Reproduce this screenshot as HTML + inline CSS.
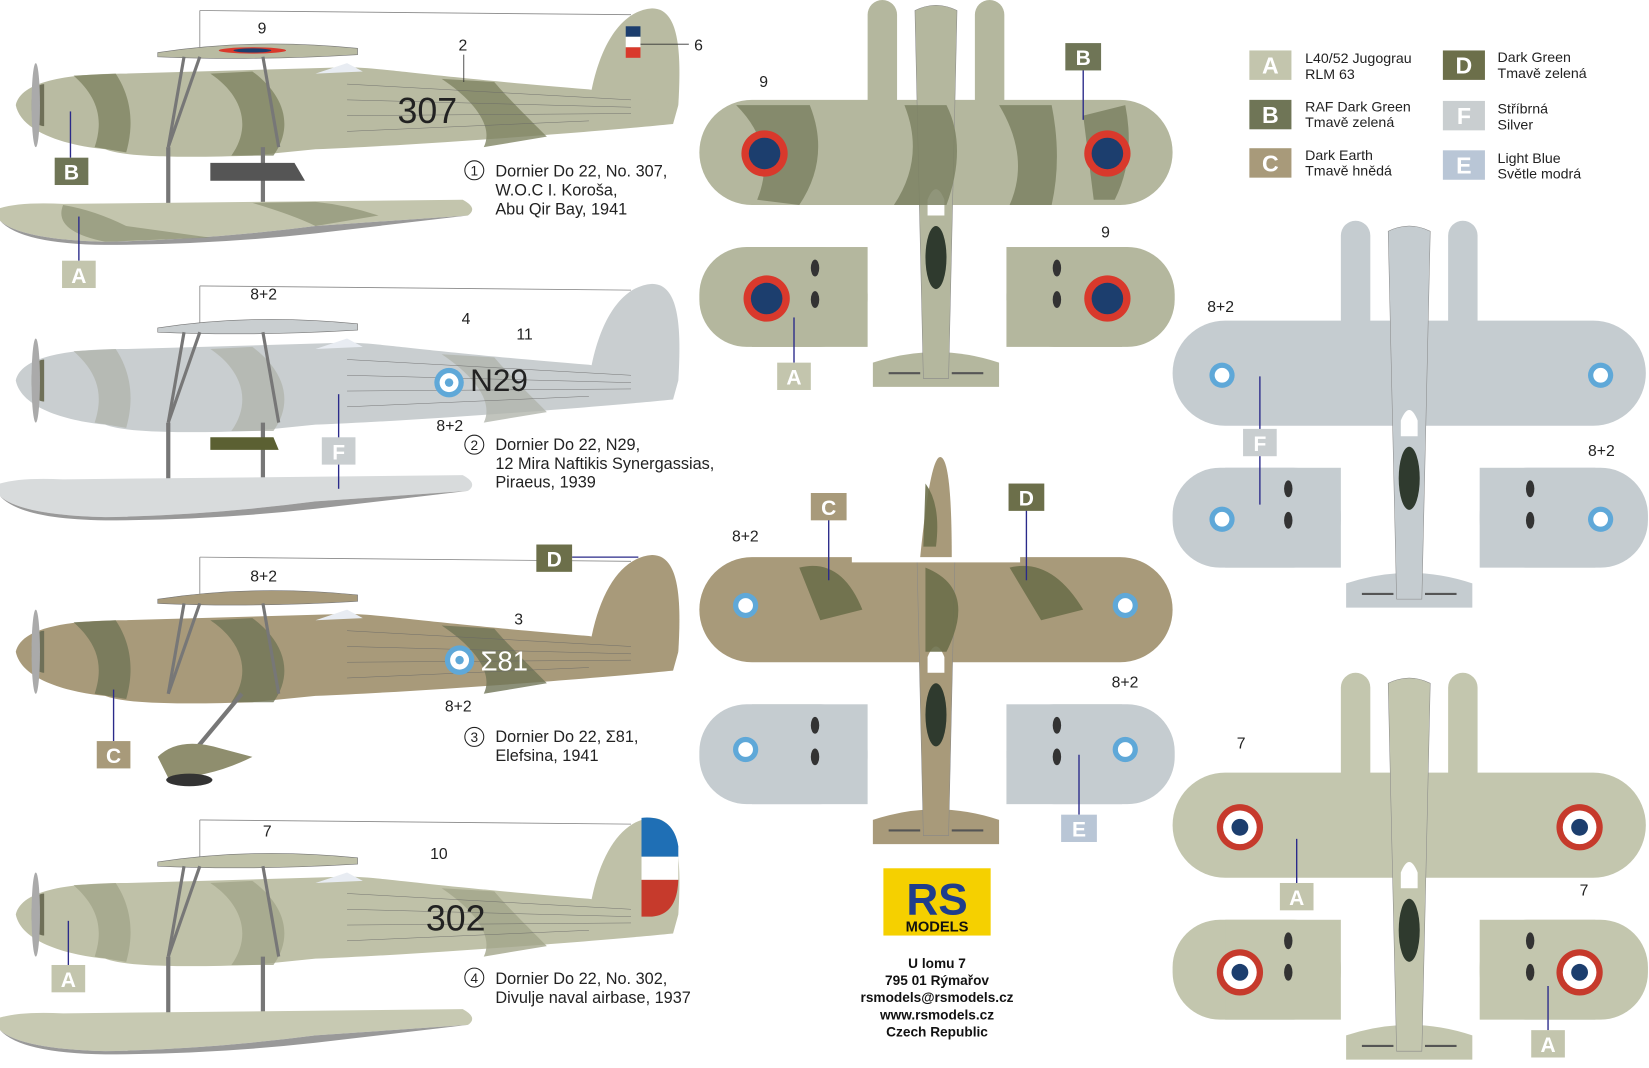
<!DOCTYPE html>
<html><head><meta charset="utf-8">
<style>
html,body{margin:0;padding:0;background:#fff;}
svg{display:block;}
text{font-family:"Liberation Sans",sans-serif;}
</style></head><body>
<svg width="1649" height="1068" viewBox="0 0 1568 1016" preserveAspectRatio="none" xmlns="http://www.w3.org/2000/svg">
<defs>
<g id="side">
  <line x1="190" y1="10" x2="600" y2="14" stroke="#888" stroke-width="0.8"/>
  <line x1="190" y1="10" x2="190" y2="45" stroke="#888" stroke-width="0.8"/>
  <path d="M560,100 C568,45 590,10 620,8 C646,8 648,50 645,100 Z" style="fill:var(--b)"/>
  <path d="M15,100 C20,78 60,70 120,70 L330,64 C360,64 400,72 560,85 L645,100 L640,118 C560,126 400,138 300,142 L240,148 C180,150 120,150 100,142 C60,138 20,125 15,100Z" style="fill:var(--b)"/>
  <path d="M200,70 C230,90 240,120 220,148 L260,148 C280,120 270,90 240,68Z M420,75 C450,95 470,120 460,140 L520,130 C500,110 480,90 470,78Z M70,72 C90,90 100,110 90,140 L120,145 C130,110 120,85 110,70Z" style="fill:var(--c)" opacity="0.8"/>
  <path d="M30,100 C30,85 36,80 42,80 L42,120 C36,120 30,115 30,100Z" fill="#6f7058"/>
  <ellipse cx="34" cy="100" rx="4" ry="40" fill="#aaa"/>
  <path d="M150,50 Q240,36 340,46 L340,52 Q240,58 150,54Z" style="fill:var(--b)" stroke="#777" stroke-width="0.6"/>
  <g stroke="#777" stroke-width="3" fill="none">
    <line x1="175" y1="54" x2="160" y2="140"/><line x1="250" y1="54" x2="265" y2="140"/>
    <line x1="190" y1="54" x2="160" y2="140"/>
  </g>
  <path d="M300,70 L345,68 L330,60 Z" fill="#e8ecf2"/>
  <g stroke="#666" stroke-width="0.4">
    <line x1="330" y1="80" x2="600" y2="95"/><line x1="330" y1="95" x2="600" y2="102"/>
    <line x1="330" y1="110" x2="600" y2="108"/><line x1="330" y1="125" x2="560" y2="115"/>
  </g>
</g>
<g id="float">
  <line x1="160" y1="140" x2="160" y2="195" stroke="#777" stroke-width="4"/>
  <line x1="250" y1="140" x2="250" y2="195" stroke="#777" stroke-width="4"/>
  <path d="M0,198 Q20,192 60,194 L440,190 Q455,198 445,205 L300,215 Q200,228 100,230 Q20,228 0,210Z" style="fill:var(--f)"/>
  <path d="M0,210 Q20,228 100,230 Q200,228 300,215 L445,205 L300,222 Q200,233 100,233 Q20,232 0,210Z" fill="#999"/>
</g>
<g id="top">
  <rect x="-65" y="0" width="28" height="190" rx="14" style="fill:var(--w)"/>
  <rect x="37" y="0" width="28" height="190" rx="14" style="fill:var(--w)"/>
  <rect x="-225" y="95" width="450" height="100" rx="50" style="fill:var(--w)"/>
  <path d="M-60,345 Q0,325 60,345 L60,368 L-60,368Z" style="fill:var(--w)"/>
  <path d="M-20,10 Q0,0 20,10 L12,360 L-12,360Z" style="fill:var(--w)" stroke="#888" stroke-width="0.5"/>
  <rect x="-225" y="235" width="160" height="95" rx="45" style="fill:var(--p,var(--w))"/>
  <rect x="67" y="235" width="160" height="95" rx="45" style="fill:var(--p,var(--w))"/>
  <rect x="-175" y="235" width="110" height="95" style="fill:var(--p,var(--w))"/>
  <rect x="67" y="235" width="110" height="95" style="fill:var(--p,var(--w))"/>
  <ellipse cx="0" cy="245" rx="10" ry="30" fill="#2f3a2e"/>
  <path d="M-8,190 Q0,170 8,190 L8,205 L-8,205Z" fill="#fff"/>
  <g fill="#333"><ellipse cx="-115" cy="255" rx="4" ry="8"/><ellipse cx="-115" cy="285" rx="4" ry="8"/>
  <ellipse cx="115" cy="255" rx="4" ry="8"/><ellipse cx="115" cy="285" rx="4" ry="8"/></g>
  <line x1="-45" y1="355" x2="-15" y2="355" stroke="#555" stroke-width="2"/>
  <line x1="15" y1="355" x2="45" y2="355" stroke="#555" stroke-width="2"/>
</g>
</defs>
<rect width="1568" height="1016" fill="#fff"/>

<!-- SIDE VIEWS -->
<g style="--b:#b9bba2;--c:#7f8463;--f:#c3c5ad"><use href="#side"/><use href="#float"/></g>
<path d="M60,195 Q90,200 120,215 L200,226 L100,230 Q50,220 60,195Z M240,193 Q280,205 300,215 L360,205 Q330,195 300,192Z" fill="#8d9173" opacity="0.7"/>
<rect x="595" y="25" width="14" height="10" fill="#1c3e6e"/><rect x="595" y="35" width="14" height="10" fill="#fff"/><rect x="595" y="45" width="14" height="10" fill="#d9392c"/>
<line x1="609" y1="42" x2="655" y2="42" stroke="#333" stroke-width="0.8"/>
<ellipse cx="240" cy="48" rx="32" ry="3" fill="#d9392c"/><ellipse cx="240" cy="48" rx="18" ry="2" fill="#1c3e6e"/>
<path d="M200,155 L280,155 L290,172 L200,172Z" fill="#555"/>
<line x1="441" y1="52" x2="441" y2="78" stroke="#333" stroke-width="0.8"/>
<text x="378" y="117" font-size="34" fill="#222">307</text>

<g transform="translate(0,262)" style="--b:#c9ced0;--c:#b2b5ad;--f:#d8dbdc"><use href="#side"/><use href="#float"/></g>
<path d="M200,416 L260,416 L265,428 L200,428Z" fill="#5b6032"/>
<circle cx="427" cy="364" r="14" fill="#5fa8d8"/><circle cx="427" cy="364" r="9" fill="#fff"/><circle cx="427" cy="364" r="4" fill="#5fa8d8"/>
<text x="447" y="372" font-size="30" fill="#222">N29</text>

<g transform="translate(0,520)" style="--b:#a89a7a;--c:#6f7456"><use href="#side"/></g>
<line x1="230" y1="660" x2="180" y2="720" stroke="#777" stroke-width="4"/>
<path d="M150,720 Q170,700 210,712 L240,720 Q200,740 160,740Z" fill="#8f8e6e"/>
<ellipse cx="180" cy="742" rx="22" ry="6" fill="#333"/>
<circle cx="437" cy="628" r="14" fill="#5fa8d8"/><circle cx="437" cy="628" r="9" fill="#fff"/><circle cx="437" cy="628" r="4" fill="#5fa8d8"/>
<text x="457" y="638" font-size="26" fill="#fff">Σ81</text>

<g transform="translate(0,770)" style="--b:#bfc1a8;--c:#a2a58a;--f:#c7c9b2"><use href="#side"/><use href="#float"/></g>
<path d="M610,778 Q640,775 645,805 L645,815 L610,815Z" fill="#1f6fb5"/><rect x="610" y="815" width="35" height="22" fill="#fff"/><path d="M610,837 L645,837 Q644,870 620,872 L610,872Z" fill="#c63a2c"/>
<text x="405" y="885" font-size="34" fill="#222">302</text>

<!-- side labels -->
<g font-size="15" fill="#222">
<text x="245" y="32">9</text><text x="436" y="48">2</text><text x="660" y="48">6</text>
<text x="238" y="285">8+2</text><text x="439" y="308">4</text><text x="491" y="323">11</text><text x="415" y="410">8+2</text>
<text x="238" y="553">8+2</text><text x="489" y="594">3</text><text x="423" y="677">8+2</text>
<text x="250" y="796">7</text><text x="409" y="817">10</text>
<g font-size="15.5">
<text x="471" y="168">Dornier Do 22, No. 307,</text><text x="471" y="186">W.O.C I. Koroša,</text><text x="471" y="204">Abu Qir Bay, 1941</text>
<text x="471" y="428">Dornier Do 22, N29,</text><text x="471" y="446">12 Mira Naftikis Synergassias,</text><text x="471" y="464">Piraeus, 1939</text>
<text x="471" y="706">Dornier Do 22, Σ81,</text><text x="471" y="724">Elefsina, 1941</text>
<text x="471" y="936">Dornier Do 22, No. 302,</text><text x="471" y="954">Divulje naval airbase, 1937</text>
</g>
</g>
<g fill="none" stroke="#222" stroke-width="1"><circle cx="451" cy="162" r="9"/><circle cx="451" cy="423" r="9"/><circle cx="451" cy="701" r="9"/><circle cx="451" cy="930" r="9"/></g>
<g font-size="13" fill="#222" text-anchor="middle"><text x="451" y="167">1</text><text x="451" y="428">2</text><text x="451" y="706">3</text><text x="451" y="935">4</text></g>

<!-- TOP VIEWS -->
<g transform="translate(890,0)" style="--w:#b4b79e"><use href="#top"/></g>
<path d="M700,100 Q740,140 720,190 L760,195 Q790,150 770,100Z M860,100 Q880,150 850,195 L900,195 Q920,140 900,100Z M950,100 Q980,150 960,195 L1000,195 Q1010,150 1000,100Z M1030,110 L1070,100 Q1080,150 1060,190 L1040,190Z" fill="#7d8263" opacity="0.85"/>
<circle cx="727" cy="146" r="22" fill="#d9392c"/><circle cx="727" cy="146" r="15" fill="#1c3e6e"/>
<circle cx="1053" cy="146" r="22" fill="#d9392c"/><circle cx="1053" cy="146" r="15" fill="#1c3e6e"/>
<circle cx="729" cy="284" r="22" fill="#d9392c"/><circle cx="729" cy="284" r="15" fill="#1c3e6e"/>
<circle cx="1053" cy="284" r="22" fill="#d9392c"/><circle cx="1053" cy="284" r="15" fill="#1c3e6e"/>

<g transform="translate(890,435)" style="--w:#a89a7a;--p:#c5ccd0"><use href="#top"/></g>
<rect x="810" y="430" width="160" height="105" fill="#fff"/>
<path d="M875,530 Q885,430 895,435 Q905,440 905,530Z" fill="#a89a7a"/>
<path d="M760,540 Q800,530 820,580 L780,590Z M880,540 Q930,560 900,620 L880,620Z M960,540 Q1000,530 1030,580 L990,590Z M880,460 Q895,480 890,520 L878,520Z" fill="#6c6f4a" opacity="0.9"/>
<g fill="#5fa8d8"><circle cx="709" cy="576" r="12"/><circle cx="1070" cy="576" r="12"/><circle cx="709" cy="713" r="12"/><circle cx="1070" cy="713" r="12"/></g>
<g fill="#fff"><circle cx="709" cy="576" r="7"/><circle cx="1070" cy="576" r="7"/><circle cx="709" cy="713" r="7"/><circle cx="1070" cy="713" r="7"/></g>

<g transform="translate(1340,210)" style="--w:#c5ccd0"><use href="#top"/></g>
<g fill="#5fa8d8"><circle cx="1162" cy="357" r="12"/><circle cx="1522" cy="357" r="12"/><circle cx="1162" cy="494" r="12"/><circle cx="1522" cy="494" r="12"/></g>
<g fill="#fff"><circle cx="1162" cy="357" r="7"/><circle cx="1522" cy="357" r="7"/><circle cx="1162" cy="494" r="7"/><circle cx="1522" cy="494" r="7"/></g>

<g transform="translate(1340,640)" style="--w:#c3c6ae"><use href="#top"/></g>
<g><circle cx="1179" cy="787" r="22" fill="#c63a2c"/><circle cx="1179" cy="787" r="16" fill="#fff"/><circle cx="1179" cy="787" r="8" fill="#1c3e6e"/>
<circle cx="1502" cy="787" r="22" fill="#c63a2c"/><circle cx="1502" cy="787" r="16" fill="#fff"/><circle cx="1502" cy="787" r="8" fill="#1c3e6e"/>
<circle cx="1179" cy="925" r="22" fill="#c63a2c"/><circle cx="1179" cy="925" r="16" fill="#fff"/><circle cx="1179" cy="925" r="8" fill="#1c3e6e"/>
<circle cx="1502" cy="925" r="22" fill="#c63a2c"/><circle cx="1502" cy="925" r="16" fill="#fff"/><circle cx="1502" cy="925" r="8" fill="#1c3e6e"/></g>

<g font-size="15" fill="#222">
<text x="722" y="83">9</text><text x="1047" y="226">9</text>
<text x="1148" y="297">8+2</text><text x="1510" y="434">8+2</text>
<text x="696" y="515">8+2</text><text x="1057" y="654">8+2</text>
<text x="1176" y="712">7</text><text x="1502" y="852">7</text>
</g>

<!-- leader lines & letter boxes -->
<g stroke="#2a2a8a" stroke-width="1.3">
<line x1="67" y1="106" x2="67" y2="150"/><line x1="75" y1="206" x2="75" y2="248"/>
<line x1="322" y1="375" x2="322" y2="465"/><line x1="544" y1="530" x2="607" y2="530"/>
<line x1="108" y1="656" x2="108" y2="705"/><line x1="65" y1="876" x2="65" y2="918"/>
<line x1="1030" y1="66" x2="1030" y2="114"/><line x1="755" y1="302" x2="755" y2="345"/>
<line x1="788" y1="494" x2="788" y2="552"/><line x1="976" y1="485" x2="976" y2="552"/>
<line x1="1026" y1="718" x2="1026" y2="775"/><line x1="1198" y1="358" x2="1198" y2="480"/>
<line x1="1233" y1="798" x2="1233" y2="840"/><line x1="1472" y1="938" x2="1472" y2="980"/>
</g>
<g font-size="20" font-weight="bold" fill="#fff" text-anchor="middle">
<rect x="52" y="150" width="32" height="26" fill="#6f7556"/><text x="68" y="171">B</text>
<rect x="59" y="248" width="32" height="26" fill="#c3c5ad"/><text x="75" y="269">A</text>
<rect x="306" y="416" width="32" height="26" fill="#c9ced0"/><text x="322" y="437">F</text>
<rect x="510" y="518" width="34" height="26" fill="#6c6f4a"/><text x="527" y="539">D</text>
<rect x="92" y="705" width="32" height="26" fill="#a89a7a"/><text x="108" y="726">C</text>
<rect x="49" y="918" width="32" height="26" fill="#c3c5ad"/><text x="65" y="939">A</text>
<rect x="1013" y="41" width="34" height="26" fill="#6f7556"/><text x="1030" y="62">B</text>
<rect x="739" y="345" width="32" height="26" fill="#c3c5ad"/><text x="755" y="366">A</text>
<rect x="771" y="469" width="34" height="26" fill="#a89a7a"/><text x="788" y="490">C</text>
<rect x="959" y="460" width="34" height="26" fill="#6c6f4a"/><text x="976" y="481">D</text>
<rect x="1009" y="775" width="34" height="26" fill="#b9c6d6"/><text x="1026" y="796">E</text>
<rect x="1182" y="408" width="32" height="26" fill="#c9ced0"/><text x="1198" y="429">F</text>
<rect x="1217" y="840" width="32" height="26" fill="#c3c5ad"/><text x="1233" y="861">A</text>
<rect x="1456" y="980" width="32" height="26" fill="#c3c5ad"/><text x="1472" y="1001">A</text>
</g>

<!-- LEGEND -->
<g font-size="22" font-weight="bold" fill="#fff" text-anchor="middle">
<rect x="1188" y="48" width="40" height="28" fill="#c3c5ad"/><text x="1208" y="70">A</text>
<rect x="1188" y="95" width="40" height="28" fill="#6f7556"/><text x="1208" y="117">B</text>
<rect x="1188" y="141" width="40" height="28" fill="#a89a7a"/><text x="1208" y="163">C</text>
<rect x="1372" y="48" width="40" height="28" fill="#6c6f4a"/><text x="1392" y="70">D</text>
<rect x="1372" y="96" width="40" height="28" fill="#c9ced0"/><text x="1392" y="118">F</text>
<rect x="1372" y="143" width="40" height="28" fill="#b9c6d6"/><text x="1392" y="165">E</text>
</g>
<g font-size="13.5" fill="#222">
<text x="1241" y="60">L40/52 Jugograu</text><text x="1241" y="75">RLM 63</text>
<text x="1241" y="106">RAF Dark Green</text><text x="1241" y="121">Tmavě zelená</text>
<text x="1241" y="152">Dark Earth</text><text x="1241" y="167">Tmavě hnědá</text>
<text x="1424" y="59">Dark Green</text><text x="1424" y="74">Tmavě zelená</text>
<text x="1424" y="108">Stříbrná</text><text x="1424" y="123">Silver</text>
<text x="1424" y="155">Light Blue</text><text x="1424" y="170">Světle modrá</text>
</g>

<!-- LOGO -->
<rect x="840" y="826" width="102" height="64" fill="#f5d000"/>
<text x="891" y="870" font-size="42" font-weight="bold" fill="#1f3d8c" text-anchor="middle">RS</text>
<rect x="843" y="872" width="96" height="16" fill="#f5d000"/>
<text x="891" y="886" font-size="14" font-weight="bold" fill="#111" text-anchor="middle">MODELS</text>
<g font-size="13" font-weight="bold" fill="#111" text-anchor="middle">
<text x="891" y="921">U lomu 7</text><text x="891" y="937">795 01 Rýmařov</text>
<text x="891" y="953">rsmodels@rsmodels.cz</text><text x="891" y="970">www.rsmodels.cz</text>
<text x="891" y="986">Czech Republic</text>
</g>
</svg>
</body></html>
